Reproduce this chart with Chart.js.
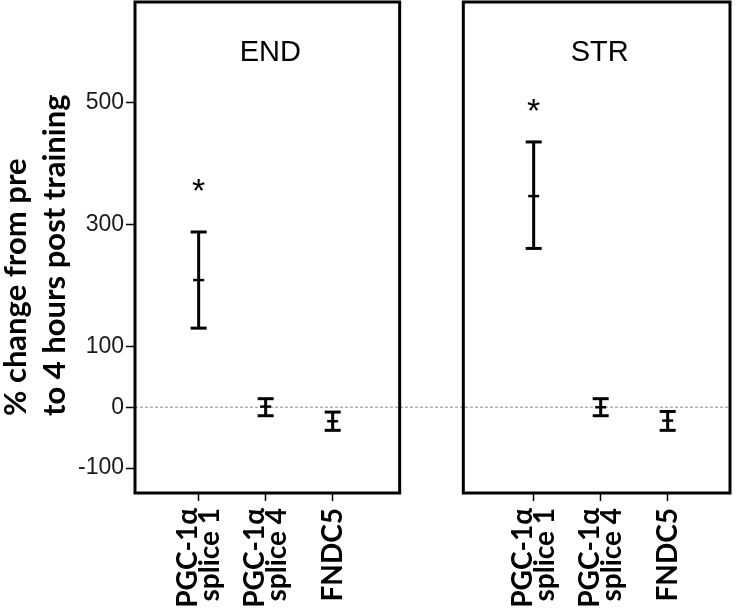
<!DOCTYPE html>
<html>
<head>
<meta charset="utf-8">
<script src="https://cdn.jsdelivr.net/npm/chart.js@4.4.0/dist/chart.umd.min.js"></script>
<style>
  body { margin: 0; background: #fff; }
  canvas { display: block; }
</style>
</head>
<body>
<canvas id="chart" width="736" height="611"></canvas>
<script>
// genes on the x axis, one set per panel
const categories = [['PGC-1α', 'splice 1'], ['PGC-1α', 'splice 4'], ['FNDC5']];
const panels = ['END', 'STR'];

// % change from pre: mean and error bar ends
const endMean = [209, 1, -23];
const endUpper = [288, 14, -8];
const endLower = [130, -14, -38];
const strMean = [347, 0, -22];
const strUpper = [436, 14, -7];
const strLower = [261, -14, -38];

// significance stars (null = none)
const endStars = [368, null, null];
const strStars = [500, null, null];

const yTicks = [-100, 0, 100, 300, 500];
const yTitle = ['% change from pre', 'to 4 hours post training'];

// layout: where each panel starts on the x axis and where its frame ends
const panelOffset = [0, 5];
const panelEdges = [[-0.95, 3.0], [3.95, 7.93]];

const means = [endMean, strMean];
const uppers = [endUpper, strUpper];
const lowers = [endLower, strLower];
const stars = [endStars, strStars];

const whiskers = [], meanPts = [], starPts = [];
panels.forEach((p, pi) => {
    categories.forEach((c, ci) => {
        const x = panelOffset[pi] + ci;
        whiskers.push({x, y: lowers[pi][ci]}, {x, y: uppers[pi][ci]}, {x, y: null});
        meanPts.push({x, y: means[pi][ci]});
        if (stars[pi][ci] !== null) starPts.push({x, y: stars[pi][ci]});
    });
});

const xTickValues = [];
panelOffset.forEach(o => categories.forEach((c, i) => xTickValues.push(o + i)));

// rotated multi-line labels start at the tick, so use half-height lines:
// two-line labels get a blank line between, one-line labels a blank line before,
// then labelOffset pulls every block back so it is centred on its tick
const tickLabel = lines => lines.length > 1 ? [lines[0], '', lines[1]] : ['', lines[0]];

// frames, zero line, panel titles, stars and the y title
const decor = {
    id: 'decor',
    beforeDatasetsDraw(chart) {
        const {ctx, chartArea: a, scales: {y}} = chart;
        const y0 = y.getPixelForValue(0);
        ctx.save();
        ctx.strokeStyle = '#8c8c8c';
        ctx.lineWidth = 1;
        ctx.setLineDash([3, 2]);
        ctx.beginPath();
        ctx.moveTo(a.left, y0);
        ctx.lineTo(a.right, y0);
        ctx.stroke();
        ctx.restore();
    },
    afterDatasetsDraw(chart) {
        const {ctx, chartArea: a, scales: {x, y}} = chart;
        ctx.save();
        ctx.strokeStyle = '#000';
        ctx.lineWidth = 3;
        panelEdges.forEach(([l, r]) => {
            const x1 = x.getPixelForValue(l), x2 = x.getPixelForValue(r);
            ctx.strokeRect(x1, a.top, x2 - x1, a.bottom - a.top);
        });

        ctx.fillStyle = '#000';
        ctx.font = '29px "Liberation Sans", Arial, sans-serif';
        ctx.textAlign = 'center';
        ctx.textBaseline = 'middle';
        panels.forEach((p, i) => {
            const [l, r] = panelEdges[i];
            ctx.fillText(p, x.getPixelForValue((l + r) / 2) + 3, a.top + 51);
        });

        ctx.font = '34px "Liberation Sans", Arial, sans-serif';
        ctx.textBaseline = 'alphabetic';
        starPts.forEach(s => {
            ctx.fillText('*', x.getPixelForValue(s.x), y.getPixelForValue(s.y) + 19);
        });

        ctx.font = 'bold 31px Lato, sans-serif';
        ctx.textAlign = 'left';
        ctx.textBaseline = 'middle';
        ctx.translate(16, 416);
        ctx.rotate(-Math.PI / 2);
        yTitle.forEach((t, i) => ctx.fillText(t, 0, i * 39));
        ctx.restore();
    }
};

document.addEventListener('DOMContentLoaded', () => {
    new Chart(document.getElementById('chart'), {
        type: 'scatter',
        data: {
            datasets: [{
                data: whiskers,
                showLine: true,
                spanGaps: false,
                borderColor: '#000',
                borderWidth: 3,
                pointStyle: 'line',
                pointRadius: 8,
                pointBorderWidth: 3,
                pointBorderColor: '#000'
            }, {
                data: meanPts,
                pointStyle: 'line',
                pointRadius: 5.5,
                pointBorderWidth: 2.5,
                pointBorderColor: '#000'
            }]
        },
        options: {
            responsive: false,
            animation: false,
            layout: { autoPadding: false, padding: { left: 0, right: 6, top: 2, bottom: 0 } },
            plugins: {
                legend: { display: false },
                tooltip: { enabled: false }
            },
            scales: {
                x: {
                    type: 'linear',
                    min: panelEdges[0][0],
                    max: panelEdges[1][1],
                    afterBuildTicks: s => { s.ticks = xTickValues.map(v => ({value: v})); },
                    afterFit: s => { s.height = 118; s.paddingLeft = 0; s.paddingRight = 0; },
                    border: { display: false },
                    grid: { drawOnChartArea: false, tickLength: 8, tickColor: '#000', tickWidth: 1.5 },
                    ticks: {
                        autoSkip: false,
                        minRotation: 90,
                        maxRotation: 90,
                        padding: 7,
                        labelOffset: -11,
                        color: '#000',
                        font: { family: 'Lato', weight: 'bold', size: 28, lineHeight: '11px' },
                        callback: (v, i) => tickLabel(categories[i % categories.length])
                    }
                },
                y: {
                    min: -141,
                    max: 666,
                    afterBuildTicks: s => { s.ticks = yTicks.map(v => ({value: v})); },
                    afterFit: s => { s.width = 135; s.paddingTop = 0; s.paddingBottom = 0; },
                    border: { display: false },
                    grid: { drawOnChartArea: false, tickLength: 9, tickColor: '#000', tickWidth: 1.5 },
                    ticks: {
                        padding: 2,
                        color: '#1a1a1a',
                        font: { family: '"Liberation Sans", Arial, sans-serif', size: 23 }
                    }
                }
            }
        },
        plugins: [decor]
    });
});
</script>
</body>
</html>
